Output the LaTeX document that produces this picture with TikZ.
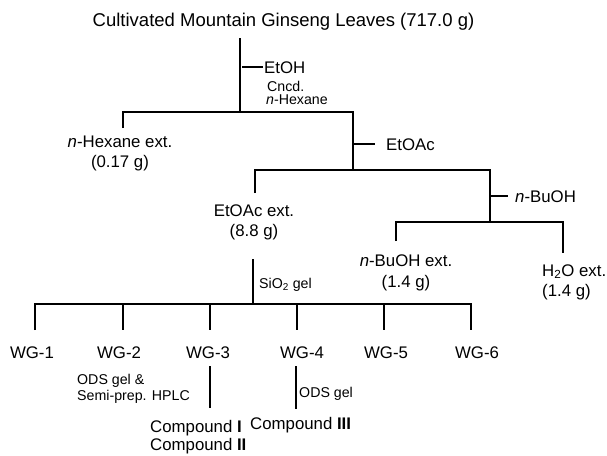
\documentclass[tikz,border=0pt]{standalone}
\usepackage{fontspec}
\setmainfont{Liberation Sans}
\tikzset{
  ext/.style={font=\fontsize{16.8}{20.5}\selectfont, align=center, inner sep=0pt},
  cond/.style={font=\fontsize{14.2}{11}\selectfont, inner sep=0pt},
  branch/.style={line width=1.6pt}
}
\begin{document}
\begin{tikzpicture}[x=1pt, y=-1pt]
\useasboundingbox (0,0) rectangle (607,455);

% Starting material
\node[anchor=base, inner sep=0pt, font=\fontsize{18.5}{22}\selectfont] (leaves) at (283.5,27) {Cultivated Mountain Ginseng Leaves (717.0 g)};

% Solvents and conditions
\node[ext, anchor=base west] (etoh) at (264,73) {EtOH};
\node[cond, anchor=base west] (cncd) at (267,91.5) {Cncd.};
\node[cond, anchor=base west] (hexane) at (266,104.5) {\textit{n}-Hexane};
\node[ext, anchor=base west] (etoac) at (386,150) {EtOAc};
\node[ext, anchor=base west] (buoh) at (515,202) {\textit{n}-BuOH};
\node[cond, anchor=base west] (sio2) at (259,288) {SiO\textsubscript{2} gel};

% Extracts
\node[ext] (hexext) at (120,153.5) {\textit{n}-Hexane ext.\\(0.17 g)};
\node[ext] (etoacext) at (254,222.5) {EtOAc ext.\\(8.8 g)};
\node[ext] (buext) at (406,273) {\textit{n}-BuOH ext.\\(1.4 g)};
\node[ext, align=left, anchor=west] (waterext) at (542,282.5) {H\textsubscript{2}O ext.\\(1.4 g)};

% Fractions
\node[ext, anchor=base] (wg1) at (32,358) {WG-1};
\node[ext, anchor=base] (wg2) at (119,358) {WG-2};
\node[ext, anchor=base] (wg3) at (208,358) {WG-3};
\node[ext, anchor=base] (wg4) at (302,358) {WG-4};
\node[ext, anchor=base] (wg5) at (386,358) {WG-5};
\node[ext, anchor=base] (wg6) at (477,358) {WG-6};

% Purification and compounds
\node[cond, anchor=north west, align=left, font=\fontsize{14.2}{16}\selectfont] (hplc) at (77,374.5) {ODS gel \&\\Semi-prep. HPLC};
\node[cond, anchor=base west] (ods) at (299,397) {ODS gel};
\node[ext, anchor=north west, align=left, font=\fontsize{16.8}{18.5}\selectfont] (cpd12) at (150,420) {Compound \textbf{I}\\Compound \textbf{II}};
\node[ext, anchor=base west] (cpd3) at (250,429) {Compound \textbf{III}};

% Junction points
\coordinate (t0) at (240,38);
\coordinate (j1) at (240,112);
\coordinate (hexdrop) at (123,128);
\coordinate (j2) at (353,170);
\coordinate (etoacdrop) at (255,193);
\coordinate (j3) at (490,222);
\coordinate (budrop) at (396,241);
\coordinate (waterdrop) at (563,253);
\coordinate (s0) at (253,259);
\coordinate (s1) at (253,304);

% Partition tree
\draw[branch] (t0) -- (j1);
\draw[branch] (t0 |- etoh.west) ++(2,0) -- ([xshift=-1pt]etoh.west);
\draw[branch] (hexdrop) -- (hexdrop |- j1) -- (j2 |- j1) -- (j2);
\draw[branch] (j2 |- etoac.west) -- ([xshift=-11pt]etoac.west);
\draw[branch] (etoacdrop) -- (etoacdrop |- j2) -- (j3 |- j2) -- (j3);
\draw[branch] (j3 |- buoh.west) -- ([xshift=-7pt]buoh.west);
\draw[branch] (budrop) -- (budrop |- j3) -- (waterdrop |- j3) -- (waterdrop);

% Column fractions
\draw[branch] (s0) -- (s1);
\draw[branch] (35,330) -- (35,304) -- (471,304) -- (471,330);
\draw[branch] (123,304) -- (123,330);
\draw[branch] (210,304) -- (210,330);
\draw[branch] (297,304) -- (297,330);
\draw[branch] (384,304) -- (384,330);

% Further separation
\draw[branch] (210,366) -- (210,408);
\draw[branch] (296,366) -- (296,409);
\end{tikzpicture}
\end{document}
